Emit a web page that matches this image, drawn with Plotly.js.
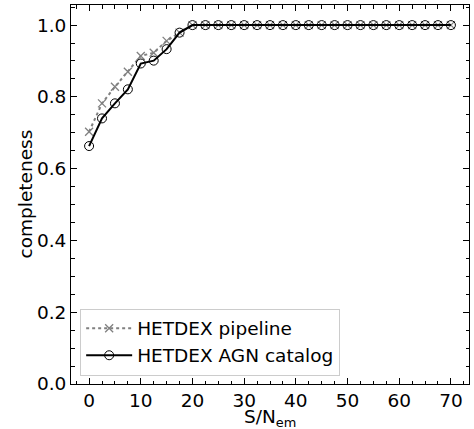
<!DOCTYPE html>
<html>
<head>
<meta charset="utf-8">
<script src="https://cdn.plot.ly/plotly-3.0.1.min.js"></script>
<style>
  html, body { margin: 0; padding: 0; background: #fff; }
  #chart { width: 474px; height: 429px; }
</style>
</head>
<body>
<div id="chart"></div>
<script>
// Emission-line S/N bins
const snrBins = [0, 2.5, 5, 7.5, 10, 12.5, 15, 17.5, 20, 22.5, 25, 27.5, 30, 32.5, 35,
                 37.5, 40, 42.5, 45, 47.5, 50, 52.5, 55, 57.5, 60, 62.5, 65, 67.5, 70];

// Completeness of the HETDEX pipeline detections
const pipelineCompleteness = [0.703, 0.782, 0.828, 0.870, 0.914, 0.923, 0.956, 0.979, 1.0,
                              1.0, 1.0, 1.0, 1.0, 1.0, 1.0, 1.0, 1.0, 1.0, 1.0, 1.0,
                              1.0, 1.0, 1.0, 1.0, 1.0, 1.0, 1.0, 1.0, 1.0];

// Completeness of the HETDEX AGN catalog
const agnCompleteness = [0.663, 0.740, 0.782, 0.821, 0.893, 0.901, 0.933, 0.979, 1.0,
                         1.0, 1.0, 1.0, 1.0, 1.0, 1.0, 1.0, 1.0, 1.0, 1.0, 1.0,
                         1.0, 1.0, 1.0, 1.0, 1.0, 1.0, 1.0, 1.0, 1.0];

const seriesNames = ['HETDEX pipeline', 'HETDEX AGN catalog'];
const xTitle = 'S/N<sub>em</sub>';
const yTitle = 'completeness';

const FONT = 'DejaVu Sans, sans-serif';
const titleFont = { family: FONT, size: 18.5, color: '#000' };

const traces = [
  {
    x: snrBins, y: pipelineCompleteness, name: seriesNames[0],
    type: 'scatter', mode: 'lines+markers',
    line: { color: '#808080', width: 2, dash: 'dot' },
    marker: { symbol: 'x-thin', size: 8, color: '#808080', line: { color: '#808080', width: 1.3 } }
  },
  {
    x: snrBins, y: agnCompleteness, name: seriesNames[1],
    type: 'scatter', mode: 'lines+markers',
    line: { color: '#000000', width: 2 },
    marker: { symbol: 'circle-open', size: 9, color: '#000000', line: { color: '#000000', width: 1 } }
  }
];

const axisCommon = {
  showgrid: false, zeroline: false,
  showline: true, linecolor: '#000', linewidth: 1, mirror: 'allticks',
  ticks: 'inside', ticklen: 6, tickwidth: 1, tickcolor: '#000',
  tickfont: { family: FONT, size: 18.5, color: '#000' }
};

const layout = {
  width: 474, height: 429,
  margin: { l: 71, r: 5, t: 5, b: 45 },
  paper_bgcolor: '#fff', plot_bgcolor: '#fff',
  font: { family: FONT, color: '#000' },
  showlegend: true,
  xaxis: Object.assign({}, axisCommon, {
    range: [-3.5, 73.5], tickmode: 'linear', tick0: 0, dtick: 10,
    minor: { dtick: 2.5, ticks: 'inside', ticklen: 3.5, tickcolor: '#000', tickwidth: 1 }
  }),
  yaxis: Object.assign({}, axisCommon, {
    range: [0, 1.056], tickmode: 'linear', tick0: 0, dtick: 0.2, tickformat: '.1f',
    minor: { dtick: 0.05, ticks: 'inside', ticklen: 3.5, tickcolor: '#000', tickwidth: 1 }
  }),
  // axis titles placed as annotations so they can sit close to the figure edge
  annotations: [
    {
      text: xTitle, xref: 'paper', yref: 'paper', x: 0.5, y: 0,
      xanchor: 'center', yanchor: 'top', yshift: -21, borderpad: 0,
      showarrow: false, font: titleFont
    },
    {
      text: yTitle, xref: 'paper', yref: 'paper', x: 0, y: 0.5, textangle: -90,
      xanchor: 'center', yanchor: 'middle', xshift: -46, showarrow: false, font: titleFont
    }
  ],
  legend: {
    x: 0.023, y: 0.022, xanchor: 'left', yanchor: 'bottom',
    bgcolor: 'rgba(255,255,255,0.8)', bordercolor: '#cccccc', borderwidth: 1,
    font: { family: FONT, size: 18.5, color: '#000' },
    itemwidth: 46,
    tracegroupgap: 0
  }
};

Plotly.newPlot('chart', traces, layout, { displayModeBar: false, staticPlot: true });
</script>
</body>
</html>
